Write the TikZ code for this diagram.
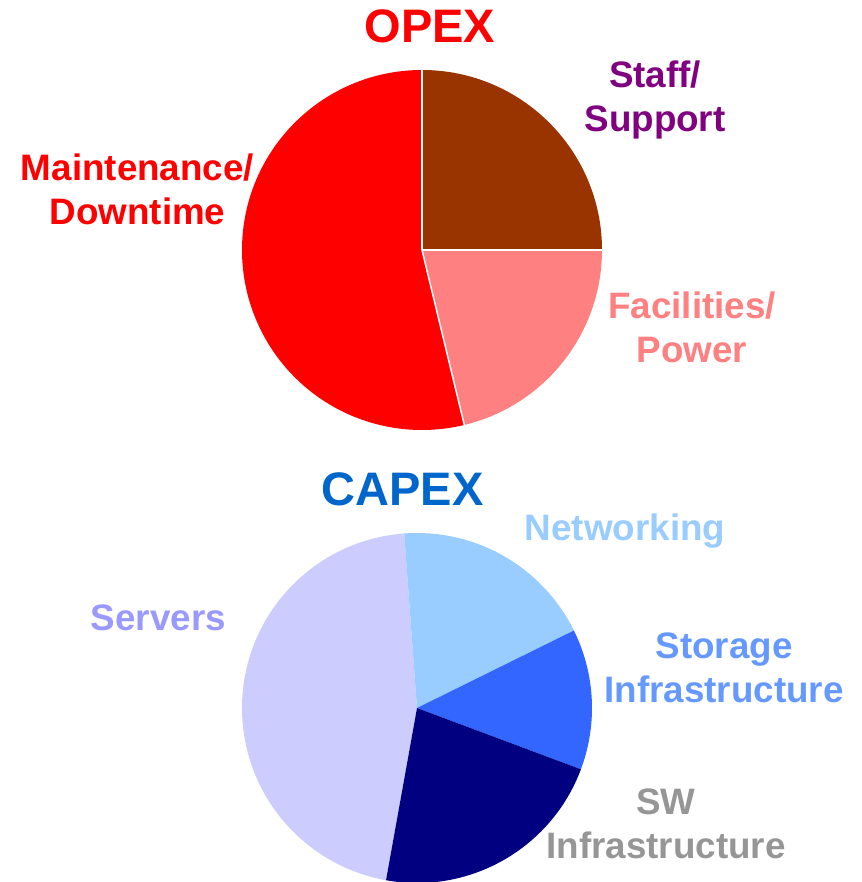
\documentclass[tikz,border=0pt]{standalone}
\usepackage{fontspec}
\setmainfont{Liberation Sans}
\usetikzlibrary{calc, positioning}
\definecolor{OpexRed}{HTML}{FF0000}
\definecolor{OpexBrown}{HTML}{993300}
\definecolor{OpexPink}{HTML}{FF8080}
\definecolor{OpexPurple}{HTML}{800080}
\definecolor{CapexBlue}{HTML}{0066CC}
\definecolor{CapexSky}{HTML}{99CCFF}
\definecolor{CapexRoyal}{HTML}{3366FF}
\definecolor{CapexRoyalText}{HTML}{6699FF}
\definecolor{CapexNavy}{HTML}{000080}
\definecolor{CapexLavender}{HTML}{CCCCFF}
\definecolor{CapexLavenderText}{HTML}{9999FF}
\definecolor{CapexGrey}{HTML}{969696}

\begin{document}
\begin{tikzpicture}[x = 1pt, y = 1pt]%
    %
    \def\opexradius{180}%
    \def\capexradius{175}%
    %
    \tikzstyle{title} = [inner sep = 0pt, anchor = base, font = \fontsize{47}{56}\selectfont\bfseries]%
    \tikzstyle{label} = [inner sep = 0pt, anchor = base, align = center, font = \fontsize{36.8}{44}\selectfont\bfseries]%
    \tikzstyle{cut} = [draw = white, line width = 1.5pt, line join = round]%
    %
    \def\pieslice[#1](#2)(#3:#4:#5){% Syntax: [fill options] (center) (initial angle:final angle:radius)
        \path[#1] (#2) -- ++(#3:#5) arc (#3:#4:#5) -- cycle;%
    }%
    %
    \useasboundingbox (0, 0) rectangle (861, -882);%
    %
    % OPEX
    \coordinate (opex) at (422, -250);%
    \pieslice[fill = OpexRed](opex)(90:283.6:\opexradius);%
    \pieslice[fill = OpexBrown](opex)(0:90:\opexradius);%
    \pieslice[fill = OpexPink](opex)(-76.4:0:\opexradius);%
    \draw [cut] (opex) -- ++(90:\opexradius);%
    \draw [cut] (opex) -- ++(0:\opexradius);%
    \draw [cut] (opex) -- ++(-76.4:\opexradius);%
    %
    % two-line labels sit on the baseline of their last line
    \node [title, text = OpexRed] (opextitle) at (430, -43) {OPEX};%
    \node [label, text = OpexPurple] (staff) at (655, -132) {Staff/\\Support};%
    \node [label, text = OpexRed] (maintenance) at (137.5, -225) {Maintenance/\\Downtime};%
    \node [label, text = OpexPink] (facilities) at (692, -362) {Facilities/\\Power};%
    %
    % CAPEX
    \coordinate (capex) at (417, -708);%
    \pieslice[fill = CapexLavender](capex)(94.2:259.8:\capexradius);%
    \pieslice[fill = CapexSky](capex)(26.3:94.2:\capexradius);%
    \pieslice[fill = CapexRoyal](capex)(-20.5:26.3:\capexradius);%
    \pieslice[fill = CapexNavy](capex)(-100.2:-20.5:\capexradius);%
    %
    \node [title, text = CapexBlue] (capextitle) at (402.5, -505) {CAPEX};%
    \node [label, text = CapexSky] (networking) at (625, -540) {Networking};%
    \node [label, text = CapexRoyalText] (storage) at (724, -702) {Storage\\Infrastructure};%
    \node [label, text = CapexGrey] (software) at (666, -858) {SW\\Infrastructure};%
    \node [label, text = CapexLavenderText] (servers) at (158.5, -630) {Servers};%
\end{tikzpicture}
\end{document}
